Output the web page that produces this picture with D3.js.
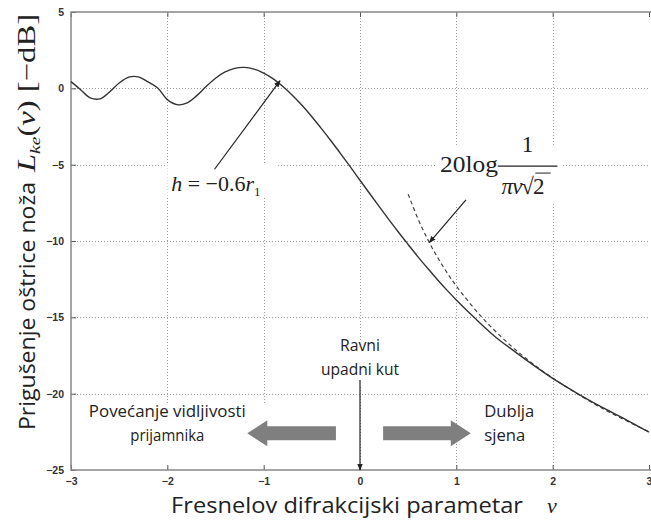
<!DOCTYPE html>
<html>
<head>
<meta charset="utf-8">
<script src="https://cdn.jsdelivr.net/npm/d3@7"></script>
<style>
  html, body { margin: 0; padding: 0; background: #fff; }
  svg { display: block; }
  .tick text { font-family: "Liberation Sans", Arial, sans-serif; font-size: 10.5px; font-weight: bold; fill: #333; }
</style>
</head>
<body>
<div id="chart"></div>
<script>
// values
const vValues = [-3.0, -2.9, -2.8, -2.7, -2.6, -2.5, -2.4, -2.3, -2.2, -2.1,
  -2.0, -1.9, -1.8, -1.7, -1.6, -1.5, -1.4, -1.3, -1.2, -1.1,
  -1.0, -0.9, -0.8, -0.7, -0.6, -0.5, -0.4, -0.3, -0.2, -0.1,
  0.0, 0.1, 0.2, 0.3, 0.4, 0.5, 0.6, 0.7, 0.8, 0.9,
  1.0, 1.2, 1.4, 1.6, 1.8, 2.0, 2.25, 2.5, 2.75, 3.0];
const lossDb = [0.44, -0.09, -0.63, -0.69, -0.24, 0.35, 0.73, 0.75, 0.42, 0.02,
  -0.74, -1.07, -0.97, -0.51, 0.10, 0.66, 1.07, 1.31, 1.37, 1.26,
  1.00, 0.62, 0.12, -0.47, -1.13, -1.86, -2.64, -3.45, -4.29, -5.15,
  -6.02, -6.89, -7.75, -8.60, -9.43, -10.23, -11.02, -11.77, -12.50, -13.20,
  -13.86, -15.10, -16.25, -17.21, -18.13, -19.00, -19.96, -20.85, -21.66, -22.52];

// dashed asymptote 20log(1/(pi v sqrt2))
const asymV = [0.5, 0.6, 0.7, 0.8, 0.9, 1.0, 1.25, 1.5, 1.75, 2.0, 2.5, 3.0];
const asymDb = [-6.93, -8.52, -9.86, -11.02, -12.04, -12.95, -14.89, -16.48, -17.82, -18.98, -20.91, -22.50];

const xTicks = [-3, -2, -1, 0, 1, 2, 3];
const yTicks = [5, 0, -5, -10, -15, -20, -25];

const W = 651, H = 523;
const margin = { top: 12, right: 1, bottom: 53, left: 71 };
const iw = W - margin.left - margin.right;
const ih = H - margin.top - margin.bottom;

const x = d3.scaleLinear().domain([-3, 3]).range([0, iw - 1]);
const y = d3.scaleLinear().domain([-25, 5]).range([ih, 0]);
const px = v => Math.round(x(v)) + 0.5;
const py = v => Math.round(y(v)) + 0.5;

const svg = d3.select('#chart').append('svg')
  .attr('width', W)
  .attr('height', H);

const defs = svg.append('defs');
defs.append('marker')
  .attr('id', 'arrowhead')
  .attr('viewBox', '0 -5 10 10')
  .attr('refX', 9)
  .attr('refY', 0)
  .attr('orient', 'auto')
  .attr('markerWidth', 7)
  .attr('markerHeight', 7)
  .attr('markerUnits', 'userSpaceOnUse')
  .append('path')
  .attr('d', 'M0,-4L10,0L0,4Z')
  .attr('fill', '#222');

const g = svg.append('g').attr('transform', `translate(${margin.left},${margin.top})`);

// grid (dotted, matlab style)
const grid = g.append('g')
  .attr('stroke', '#9a9a9a')
  .attr('stroke-width', 1)
  .attr('stroke-dasharray', '1 2');
grid.selectAll('line.gx')
  .data(xTicks.slice(1, -1))
  .join('line')
  .attr('class', 'gx')
  .attr('x1', px).attr('x2', px)
  .attr('y1', 0).attr('y2', ih);
grid.selectAll('line.gy')
  .data(yTicks.slice(1, -1))
  .join('line')
  .attr('class', 'gy')
  .attr('x1', 0).attr('x2', iw)
  .attr('y1', py).attr('y2', py);

// white boxes under annotations hide the grid
const boxes = [
  [-2.95, -20.6, -0.95, -24.9],  // Povecanje
  [-0.45, -16.6, 0.45, -19.5],   // Ravni upadni kut
  [1.25, -20.6, 2.0, -24.9],     // Dublja sjena
  [-2.0, -4.9, -0.85, -7.1],     // h = -0.6 r1
  [0.8, -3.7, 2.1, -7.6]         // 20 log
];
g.append('g').selectAll('rect')
  .data(boxes)
  .join('rect')
  .attr('x', d => x(d[0]))
  .attr('y', d => y(d[1]))
  .attr('width', d => x(d[2]) - x(d[0]))
  .attr('height', d => y(d[3]) - y(d[1]))
  .attr('fill', '#fff');

// axes: labels + inward ticks
const xAxis = g.append('g')
  .attr('transform', `translate(0,${ih})`)
  .call(d3.axisBottom(x).tickValues(xTicks).tickSize(-5).tickPadding(8).tickFormat(d3.format('d')));
const xTop = g.append('g')
  .call(d3.axisTop(x).tickValues(xTicks).tickSize(-5).tickFormat(''));
const yAxis = g.append('g')
  .call(d3.axisLeft(y).tickValues(yTicks).tickSize(-5).tickPadding(7).tickFormat(d3.format('d')));
[xAxis, xTop, yAxis].forEach(a => {
  a.select('.domain').remove();
  a.selectAll('line').attr('stroke', '#555');
});

// frame (right edge is cut off in the reference)
g.append('path')
  .attr('d', `M${iw + 1},0H0V${ih}H${iw + 1}`)
  .attr('fill', 'none')
  .attr('stroke', '#888')
  .attr('stroke-width', 1.5);

// curves
const line = d3.line().x(d => x(d[0])).y(d => y(d[1])).curve(d3.curveCatmullRom);

g.append('path')
  .datum(asymV.map((v, i) => [v, asymDb[i]]))
  .attr('d', line)
  .attr('fill', 'none')
  .attr('stroke', '#444')
  .attr('stroke-width', 1.2)
  .attr('stroke-dasharray', '4 3');

g.append('path')
  .datum(vValues.map((v, i) => [v, lossDb[i]]))
  .attr('d', line)
  .attr('fill', 'none')
  .attr('stroke', '#333')
  .attr('stroke-width', 1.4);

// arrows
const arrows = [
  [-1.51, -5.3, -0.83, 0.5],
  [1.1, -7.3, 0.72, -10.1],
  [0.0, -19.1, 0.0, -25]
];
g.append('g').selectAll('line')
  .data(arrows)
  .join('line')
  .attr('x1', d => x(d[0])).attr('y1', d => y(d[1]))
  .attr('x2', d => x(d[2])).attr('y2', d => y(d[3]))
  .attr('stroke', '#222')
  .attr('stroke-width', 1.2)
  .attr('marker-end', 'url(#arrowhead)');

// block arrows
function blockArrow(x0, x1, yc) {
  const dir = Math.sign(x1 - x0);
  const head = 20, sh = 7, hh = 13;
  const xb = x1 - dir * head;
  return `M${x0},${yc - sh}L${xb},${yc - sh}L${xb},${yc - hh}L${x1},${yc}L${xb},${yc + hh}L${xb},${yc + sh}L${x0},${yc + sh}Z`;
}
const yc = y(-22.6);
g.append('path').attr('d', blockArrow(x(-0.25), x(-1.17), yc)).attr('fill', '#7f7f7f');
g.append('path').attr('d', blockArrow(x(0.24), x(1.15), yc)).attr('fill', '#7f7f7f');

// annotation texts
const sans = '"Open Sans", Lato, sans-serif';
const serif = '"Liberation Serif", "DejaVu Serif", serif';

function label(lines, xv, yv, anchor, lens) {
  const t = g.append('text')
    .attr('font-family', sans)
    .attr('font-size', 15.5)
    .attr('fill', '#222')
    .attr('text-anchor', anchor);
  lines.forEach((s, i) => {
    t.append('tspan').attr('x', x(xv)).attr('y', y(yv) + i * 24)
      .attr('textLength', lens[i]).attr('lengthAdjust', 'spacingAndGlyphs').text(s);
  });
}
label(['Povećanje vidljivosti', 'prijamnika'], -2.0, -21.55, 'middle', [157, 74]);
label(['Ravni', 'upadni kut'], 0.0, -17.2, 'middle', [40, 78]);
label(['Dublja', 'sjena'], 1.29, -21.55, 'start', [50, 41]);

const hText = g.append('text')
  .attr('x', x(-1.96)).attr('y', y(-6.7))
  .attr('font-family', serif).attr('font-size', 22).attr('fill', '#222');
hText.append('tspan').attr('font-style', 'italic').text('h');
hText.append('tspan').text(' = −0.6');
hText.append('tspan').attr('font-style', 'italic').text('r');
hText.append('tspan').attr('font-size', 13).attr('dy', 5).text('1');

g.append('text')
  .attr('x', x(0.83)).attr('y', y(-5.45))
  .attr('font-family', serif).attr('font-size', 23).attr('fill', '#222')
  .attr('textLength', 58).attr('lengthAdjust', 'spacingAndGlyphs')
  .text('20log');
g.append('line')
  .attr('x1', x(1.43)).attr('x2', x(2.05))
  .attr('y1', y(-5.1)).attr('y2', y(-5.1))
  .attr('stroke', '#222').attr('stroke-width', 1.3);
g.append('text')
  .attr('x', x(1.74)).attr('y', y(-4.15))
  .attr('text-anchor', 'middle')
  .attr('font-family', serif).attr('font-size', 23).attr('fill', '#222')
  .text('1');
const den = g.append('text')
  .attr('x', x(1.47)).attr('y', y(-6.9))
  .attr('font-family', serif).attr('font-size', 23).attr('fill', '#222')
  .attr('letter-spacing', -1);
den.append('tspan').attr('font-style', 'italic').text('πv');
den.append('tspan').text('√2');
g.append('line')
  .attr('x1', x(1.82)).attr('x2', x(1.98))
  .attr('y1', y(-5.55)).attr('y2', y(-5.55))
  .attr('stroke', '#222').attr('stroke-width', 1);

// axis titles
svg.append('text')
  .attr('x', 171).attr('y', 513)
  .attr('font-family', sans).attr('font-size', 22).attr('fill', '#222')
  .attr('textLength', 352).attr('lengthAdjust', 'spacingAndGlyphs')
  .text('Fresnelov difrakcijski parametar');
svg.append('text')
  .attr('x', 547).attr('y', 513)
  .attr('font-family', serif).attr('font-style', 'italic').attr('font-size', 22).attr('fill', '#222')
  .text('v');

svg.append('text')
  .attr('transform', 'translate(35,430) rotate(-90)')
  .attr('font-family', sans).attr('font-size', 22).attr('fill', '#222')
  .attr('textLength', 248).attr('lengthAdjust', 'spacingAndGlyphs')
  .text('Prigušenje oštrice noža');
const yt = svg.append('text')
  .attr('transform', 'translate(35,172) rotate(-90)')
  .attr('font-family', serif).attr('font-size', 25).attr('fill', '#222')
  .attr('textLength', 158).attr('lengthAdjust', 'spacingAndGlyphs');
yt.append('tspan').attr('font-style', 'italic').text('L');
yt.append('tspan').attr('font-style', 'italic').attr('font-size', 15).attr('dy', 5).text('ke');
yt.append('tspan').attr('dy', -5).text('(');
yt.append('tspan').attr('font-style', 'italic').text('v');
yt.append('tspan').text(') [−dB]');
</script>
</body>
</html>
